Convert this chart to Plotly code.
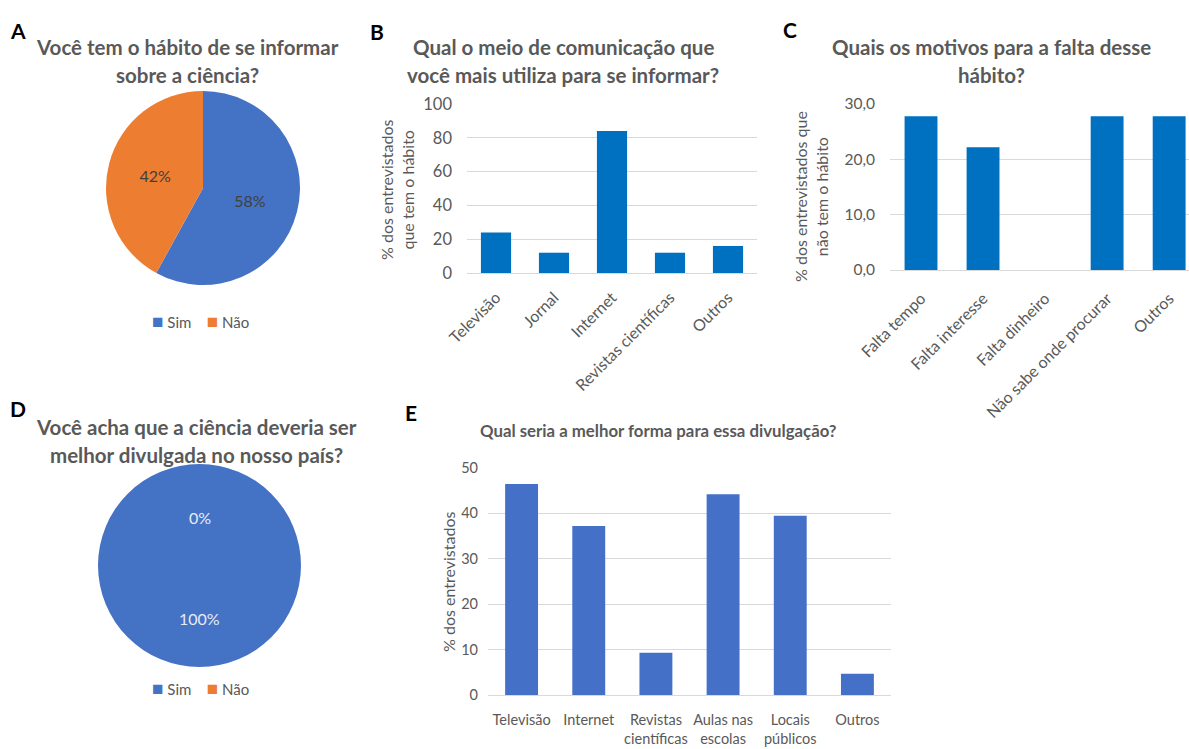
import math
import plotly.graph_objects as go

W, H = 1189, 749

# ---------------- data ----------------
pie_labels = ["Sim", "Não"]
pieA_values = [58, 42]
pieD_values = [100, 0]

b_categories = ["Televisão", "Jornal", "Internet", "Revistas científicas", "Outros"]
b_values = [24, 12, 84, 12, 16]

c_categories = ["Falta tempo", "Falta interesse", "Falta dinheiro", "Não sabe onde procurar", "Outros"]
c_values = [27.8, 22.2, 0.0, 27.8, 27.8]

e_categories = ["Televisão", "Internet", "Revistas<br>científicas", "Aulas nas<br>escolas", "Locais<br>públicos", "Outros"]
e_values = [46.5, 37.2, 9.3, 44.2, 39.5, 4.7]

# ---------------- style ----------------
FONT = "Lato"
GREY = "#595959"
BLUE_PIE = "#4472C4"
ORANGE = "#ED7D31"
BLUE_BAR = "#0070C0"
BLUE_E = "#4471C7"
GRID = "#D9D9D9"
PIE_COLORS = [BLUE_PIE, ORANGE]


def px(x):
    return x / W


def py(y):
    return 1 - y / H


fig = go.Figure()

# Pie A
fig.add_trace(go.Pie(
    labels=pie_labels, values=pieA_values, sort=False, direction="clockwise", rotation=0,
    marker=dict(colors=PIE_COLORS, line=dict(width=0)),
    textinfo="percent", textposition="inside", insidetextorientation="horizontal",
    textfont=dict(family=FONT, size=16, color="#404040"),
    domain=dict(x=[px(106), px(300)], y=[py(285), py(91)]),
    showlegend=False, hoverinfo="label+percent",
))

# Pie D
fig.add_trace(go.Pie(
    labels=pie_labels, values=pieD_values, sort=False, direction="clockwise", rotation=0,
    marker=dict(colors=PIE_COLORS, line=dict(width=0)),
    textinfo="none",
    domain=dict(x=[px(98), px(301)], y=[py(668), py(463)]),
    showlegend=False, hoverinfo="label+percent",
))

# Bar B
fig.add_trace(go.Bar(x=b_categories, y=b_values, marker=dict(color=BLUE_BAR, line=dict(width=0)),
                     width=0.52, xaxis="x", yaxis="y", showlegend=False))
# Bar C
fig.add_trace(go.Bar(x=c_categories, y=c_values, marker=dict(color=BLUE_BAR, line=dict(width=0)),
                     width=0.53, xaxis="x2", yaxis="y2", showlegend=False))
# Bar E
fig.add_trace(go.Bar(x=e_categories, y=e_values, marker=dict(color=BLUE_E, line=dict(width=0)),
                     width=0.49, xaxis="x3", yaxis="y3", showlegend=False))


def xaxis(dom, anchor, rng, angle, size, standoff):
    return dict(domain=dom, anchor=anchor, range=rng, tickangle=angle,
                tickfont=dict(family=FONT, size=size, color=GREY),
                showgrid=False, showline=True, linecolor=GRID, linewidth=1, ticks="",
                ticklabelstandoff=standoff,
                zeroline=False, fixedrange=True, automargin=False)


def yaxis(dom, anchor, rng, dtick, size, standoff, fmt=None):
    d = dict(domain=dom, anchor=anchor, range=rng, dtick=dtick,
             tickfont=dict(family=FONT, size=size, color=GREY),
             showgrid=True, gridcolor=GRID, gridwidth=1, showline=False, zeroline=False,
             ticks="", ticklen=0, ticklabelstandoff=standoff, fixedrange=True, automargin=False)
    if fmt:
        d["tickformat"] = fmt
    return d


layout = dict(
    width=W, height=H,
    margin=dict(l=0, r=0, t=0, b=0, autoexpand=False),
    paper_bgcolor="white", plot_bgcolor="white",
    font=dict(family=FONT, color=GREY),
    xaxis=xaxis([px(467), px(757)], "y", [-0.5, 4.5], -45, 16, 8),
    yaxis=yaxis([py(273), py(104)], "x", [0, 100], 20, 16.5, 14),
    xaxis2=xaxis([px(890), 1.0], "y2", [-0.5, 4.32], -45, 16, 12),
    yaxis2=yaxis([py(270), py(104)], "x2", [0, 30], 10, 15.5, 14, ",.1f"),
    xaxis3=xaxis([px(488), px(891)], "y3", [-0.5, 5.5], 0, 14.5, 12),
    yaxis3=yaxis([py(695), py(468)], "x3", [0, 50], 10, 14.5, 9),
    separators=", ",
)
fig.update_layout(**layout)

ann = []


def txt(x, y, s, size=20, bold=True, color=GREY, angle=0):
    ann.append(dict(x=px(x), y=py(y), xref="paper", yref="paper", text=(f"<b>{s}</b>" if bold else s),
                    showarrow=False, xanchor="center", yanchor="middle", textangle=angle,
                    font=dict(family=FONT, size=size, color=color)))


# panel letters
for letter, (x, y) in {"A": (18, 30), "B": (377, 32), "C": (790, 29), "D": (18, 408), "E": (411, 413)}.items():
    txt(x, y, letter, size=21, color="black")

# titles
txt(187, 47, "Você tem o hábito de se informar", size=20.5)
txt(187, 75, "sobre a ciência?", size=20.5)
txt(563, 47, "Qual o meio de comunicação que", size=20.5)
txt(563, 75, "você mais utiliza para se informar?", size=20.5)
txt(991, 47, "Quais os motivos para a falta desse", size=20.5)
txt(991, 75, "hábito?", size=20.5)
txt(196, 427, "Você acha que a ciência deveria ser", size=20.5)
txt(196, 455, "melhor divulgada no nosso país?", size=20.5)
txt(658, 430, "Qual seria a melhor forma para essa divulgação?", size=16.8)

# axis titles
txt(397, 190, "% dos entrevistados<br>que tem o hábito", size=16, bold=False, angle=-90)
txt(811, 197, "% dos entrevistados que<br>não tem o hábito", size=16, bold=False, angle=-90)
txt(448, 582, "% dos entrevistados", size=16, bold=False, angle=-90)

# legends for the pies (coloured keys + labels)
legend_text = "&nbsp;&nbsp;&nbsp;&nbsp;".join(
    f"<span style='color:{c};font-size:19px'>■</span>&nbsp;{lab}" for c, lab in zip(PIE_COLORS, pie_labels))
txt(200, 320, legend_text, size=15, bold=False)
txt(200, 687, legend_text, size=15, bold=False)

# pie D labels computed from slice mid-angles (clockwise from 12 o'clock)
cxD, cyD, rD = 199.5, 565.5, 102
tot = sum(pieD_values)
acc = 0
for v in pieD_values:
    mid = (acc + v / 2) / tot * 2 * math.pi
    acc += v
    r = rD * (0.52 if v > 0 else 0.47)
    lx = cxD + r * math.sin(mid)
    ly = cyD - r * math.cos(mid)
    txt(lx, ly, f"{v / tot * 100:.0f}%", size=16, bold=False, color="#E8ECF4")

fig.update_layout(annotations=ann)
fig.write_html("out.html", config={"displayModeBar": False},
               post_script="document.body.style.margin='0px';")
